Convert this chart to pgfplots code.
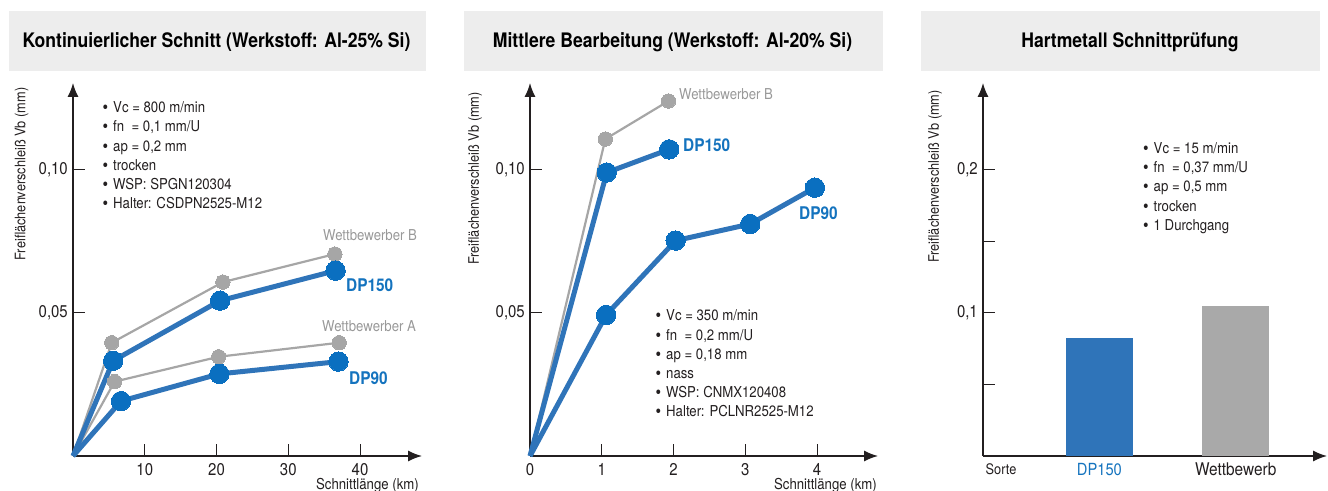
\documentclass[border=0pt]{standalone}
\usepackage{pgfplots}
\pgfplotsset{compat=1.18}
\usepackage{pgfplotstable}
\usetikzlibrary{arrows.meta}
\usepackage{fontspec}
\setmainfont{TeX Gyre Heros}[FakeStretch=0.88]
\definecolor{axc}{HTML}{231F20}
\definecolor{dpline}{HTML}{2F74B9}
\definecolor{dpmark}{HTML}{0A6FC0}
\definecolor{dptext}{HTML}{1473BE}
\definecolor{grl}{HTML}{A6A6A6}
\definecolor{grt}{HTML}{999999}
\definecolor{titlebg}{HTML}{EDEDED}
\definecolor{bargray}{HTML}{A9A9A9}
\newcommand\fs[1]{\fontsize{#1}{#1}\selectfont}

% Panel 1: Kontinuierlicher Schnitt
\pgfplotstableread{
x y
0 0
5.4 0.0396
20.9 0.0608
36.5 0.0706
}\pAB
\pgfplotstableread{
x y
0 0
5.6 0.0333
20.5 0.0543
36.6 0.0648
}\pAdpA
\pgfplotstableread{
x y
0 0
5.8 0.0260
20.3 0.0347
37.1 0.0396
}\pAA
\pgfplotstableread{
x y
0 0
6.7 0.0192
20.4 0.0287
37.0 0.0330
}\pAdpB
% Panel 2: Mittlere Bearbeitung
\pgfplotstableread{
x y
0 0
1.05 0.1108
1.93 0.1241
}\pBB
\pgfplotstableread{
x y
0 0
1.07 0.0991
1.94 0.1072
}\pBdpA
\pgfplotstableread{
x y
0 0
1.06 0.0493
2.03 0.0753
3.07 0.0811
3.97 0.0938
}\pBdpB

\pgfplotsset{
 panel/.style={
   scale only axis, anchor=south west, axis lines=left,
   height=373pt, ymin=0,
   axis line style={draw=axc, line width=1.3pt, -{Latex[length=14pt,width=11pt]}},
   tick align=inside, major tick length=12pt,
   tick style={draw=axc, line width=1pt},
   tick label style={font=\fs{17}, text=axc},
   xticklabel style={anchor=north, inner sep=0pt, yshift=-7pt},
   yticklabel style={anchor=east, inner sep=0pt, xshift=-5pt},
   clip=false,
 },
 gline/.style={draw=grl, line width=2.2pt, mark=none},
 gmark/.style={only marks, color=grl, mark=*, mark size=7.2pt, mark options={fill=grl, draw=grl, line width=0pt}, skip coords between index={0}{1}},
 bline/.style={draw=dpline, line width=5pt, mark=none},
 bmark/.style={only marks, color=dpmark, mark=*, mark size=9.7pt, mark options={fill=dpmark, draw=dpmark, line width=0pt}, skip coords between index={0}{1}},
}
\newcommand\ann[3]{\node[anchor=base west, inner sep=0pt, font=\fs{15}, text=axc] at (#1,#2) {\makebox[10.5pt][l]{\raisebox{-1pt}{\fs{18}•}}#3};}

\begin{document}
\begin{tikzpicture}[x=1pt,y=1pt]
\useasboundingbox (0,0) rectangle (1328,490);
% title boxes
\fill[titlebg] (9,419) rectangle (426,478.5);
\fill[titlebg] (464,419) rectangle (882.5,478.5);
\fill[titlebg] (920.5,419) rectangle (1320,478.5);
\node[anchor=base, inner sep=0pt, font=\bfseries\fs{20}, text=black] at (216.5,442.7) {Kontinuierlicher Schnitt (Werkstoff: Al-25\% Si)};
\node[anchor=base, inner sep=0pt, font=\bfseries\fs{20}, text=black] at (672.5,442.7) {Mittlere Bearbeitung (Werkstoff: Al-20\% Si)};
\node[anchor=base, inner sep=0pt, font=\bfseries\fs{20}, text=black] at (1130,442.7) {Hartmetall Schnittprüfung};

% ---------- Panel 1 ----------
\begin{axis}[panel, at={(73pt,34pt)}, width=349pt,
  xmin=0, xmax=48.64, ymax=0.1304,
  xtick={10,20,30,40}, xticklabels={10,20,30,40},
  ytick={0.05,0.1}, yticklabels={{0,05},{0,10}}]
\addplot[gline] table[x=x,y=y] {\pAB};
\addplot[gline] table[x=x,y=y] {\pAA};
\addplot[gmark] table[x=x,y=y] {\pAB};
\addplot[gmark] table[x=x,y=y] {\pAA};
\addplot[bmark] table[x=x,y=y] {\pAdpA};
\addplot[bmark] table[x=x,y=y] {\pAdpB};
\addplot[bline] table[x=x,y=y] {\pAdpA};
\addplot[bline] table[x=x,y=y] {\pAdpB};
\end{axis}
\node[rotate=90, inner sep=0pt, font=\fs{14.5}, text=axc] at (21.7,316) {Freiflächenverschleiß Vb (mm)};
\node[anchor=base east, inner sep=0pt, font=\fs{15}, text=axc] at (419,0.5) {Schnittlänge (km)};
\ann{102.5}{377.1}{Vc = 800 m/min}
\ann{102.5}{358.1}{fn\ \ = 0,1 mm/U}
\ann{102.5}{338.8}{ap = 0,2 mm}
\ann{102.5}{319.5}{trocken}
\ann{102.5}{300.5}{WSP: SPGN120304}
\ann{102.5}{281.5}{Halter: CSDPN2525-M12}
\node[anchor=base west, inner sep=0pt, font=\fs{15}, text=grt] at (323,249.5) {Wettbewerber B};
\node[anchor=base west, inner sep=0pt, font=\bfseries\fs{17.5}, text=dptext] at (346,198.5) {DP150};
\node[anchor=base west, inner sep=0pt, font=\fs{15}, text=grt] at (322,158.5) {Wettbewerber A};
\node[anchor=base west, inner sep=0pt, font=\bfseries\fs{17.5}, text=dptext] at (349,105.5) {DP90};

% ---------- Panel 2 ----------
\begin{axis}[panel, at={(530pt,34pt)}, width=348pt,
  xmin=0, xmax=4.85, ymax=0.1304,
  xtick={0,1,2,3,4}, xticklabels={0,1,2,3,4},
  ytick={0.05,0.1}, yticklabels={{0,05},{0,10}}]
\addplot[gline] table[x=x,y=y] {\pBB};
\addplot[gmark] table[x=x,y=y] {\pBB};
\addplot[bmark] table[x=x,y=y] {\pBdpA};
\addplot[bmark] table[x=x,y=y] {\pBdpB};
\addplot[bline] table[x=x,y=y] {\pBdpA};
\addplot[bline] table[x=x,y=y] {\pBdpB};
\end{axis}
\node[rotate=90, inner sep=0pt, font=\fs{14.5}, text=axc] at (475,311.5) {Freiflächenverschleiß Vb (mm)};
\node[anchor=base east, inner sep=0pt, font=\fs{15}, text=axc] at (877,0.5) {Schnittlänge (km)};
\ann{655.5}{169.1}{Vc = 350 m/min}
\ann{655.5}{149.8}{fn\ \ = 0,2 mm/U}
\ann{655.5}{130.5}{ap = 0,18 mm}
\ann{655.5}{111.5}{nass}
\ann{655.5}{92.5}{WSP: CNMX120408}
\ann{655.5}{73.1}{Halter: PCLNR2525-M12}
\node[anchor=base west, inner sep=0pt, font=\fs{15}, text=grt] at (679,390.7) {Wettbewerber B};
\node[anchor=base west, inner sep=0pt, font=\bfseries\fs{17.5}, text=dptext] at (683,338) {DP150};
\node[anchor=base west, inner sep=0pt, font=\bfseries\fs{17.5}, text=dptext] at (799,270) {DP90};

% ---------- Panel 3 ----------
\begin{axis}[panel, at={(983pt,34pt)}, width=344pt,
  xmin=0.146, xmax=2.67, ymax=0.2608,
  xtick={0.278,1,2}, xtick style={draw=none},
  xticklabels={{\fs{14.5}Sorte},{\fs{16.7}\color{dptext}DP150},{\fs{17.5}Wettbewerb}},
  ytick={0.05,0.1,0.15,0.2}, yticklabels={,{0,1},,{0,2}}]
\addplot[ybar, bar width=66.7pt, bar shift=0pt, fill=dpline, draw=none] coordinates {(1,0.0823)};
\addplot[ybar, bar width=66.7pt, bar shift=0pt, fill=bargray, draw=none] coordinates {(2,0.1049)};
\end{axis}
\node[rotate=90, inner sep=0pt, font=\fs{14.5}, text=axc] at (935,313.5) {Freiflächenverschleiß Vb (mm)};
\ann{1143}{336.5}{Vc = 15 m/min}
\ann{1143}{317.1}{fn\ \ = 0,37 mm/U}
\ann{1143}{298.1}{ap = 0,5 mm}
\ann{1143}{278.8}{trocken}
\ann{1143}{259.1}{1 Durchgang}
\end{tikzpicture}
\end{document}
